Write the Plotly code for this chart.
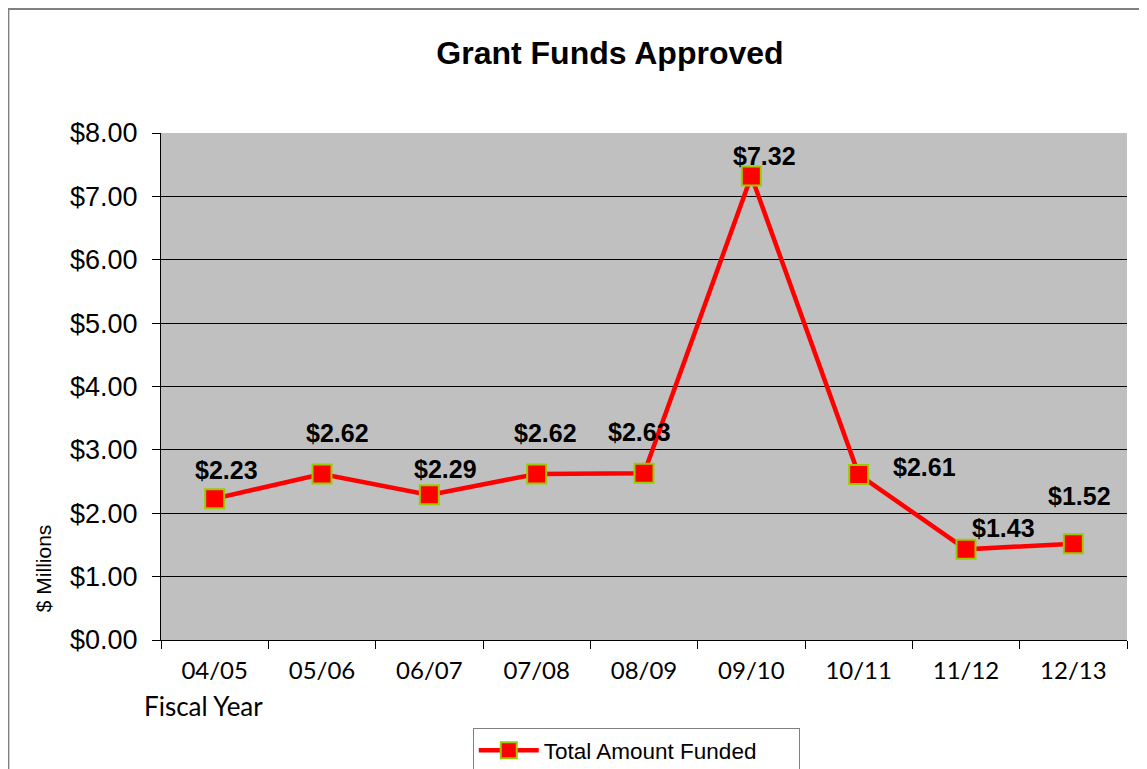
import plotly.graph_objects as go

# ==================== DATA ====================
fiscal_years = ['04/05', '05/06', '06/07', '07/08', '08/09', '09/10', '10/11', '11/12', '12/13']
amount_funded = [2.23, 2.62, 2.29, 2.62, 2.63, 7.32, 2.61, 1.43, 1.52]
y_ticks = [0, 1, 2, 3, 4, 5, 6, 7, 8]

# label offsets (px) — Excel had them nudged by hand
label_shift = [(12, 29), (15, 41), (16, 26), (9, 41), (-5, 41), (13, 20), (66, 8), (37, 21), (6, 48)]

FONT = 'Liberation Sans, Arial, sans-serif'
TICK_FONT = 'Lato, Carlito, Calibri, sans-serif'

fig = go.Figure()
fig.add_trace(go.Scatter(
  x=fiscal_years,
  y=amount_funded,
  mode='lines+markers',
  name='Total Amount Funded',
  line=dict(color='#FF0000', width=4.5),
  marker=dict(symbol='square', size=19, color='#FF0000',
              line=dict(color='#99CC00', width=2)),
))

for cat, val, (dx, dy) in zip(fiscal_years, amount_funded, label_shift):
  fig.add_annotation(
    x=cat, y=val, text=f'<b>${val:.2f}</b>', showarrow=False,
    xshift=dx, yshift=dy,
    font=dict(family=FONT, size=25, color='black'),
  )

# axis titles placed like the original
fig.add_annotation(
  xref='paper', yref='paper', x=0.0435, y=-0.13, text='Fiscal Year',
  xanchor='center', yanchor='middle',
  showarrow=False, font=dict(family=TICK_FONT, size=26, color='black'),
)
fig.add_annotation(
  xref='paper', yref='paper', x=-0.122, y=0.142, text='$ Millions',
  xanchor='center', yanchor='middle',
  textangle=-90, showarrow=False, font=dict(family=FONT, size=21, color='black'),
)

# outer chart border (right/bottom run off the image)
fig.add_shape(
  type='rect', xref='paper', yref='paper',
  x0=-0.158, y0=-0.5, x1=1.2, y1=1.2446,
  line=dict(color='#808080', width=2), layer='below',
)

# the page body has an 8px margin, so the figure is 8px smaller than the window
fig.update_layout(
  width=1139, height=761,
  margin=dict(l=153, r=20, t=125, b=129, autoexpand=False),
  paper_bgcolor='white',
  plot_bgcolor='#C0C0C0',
  title=dict(text='<b>Grant Funds Approved</b>', x=0.5285, xanchor='center',
             y=0.9409, yanchor='middle',
             font=dict(family=FONT, size=32, color='black')),
  xaxis=dict(
    type='category', tickson='boundaries', ticks='outside', ticklen=8,
    tickcolor='black', showgrid=False, showline=True, linecolor='black',
    linewidth=1, range=[-0.5, 8.5], ticklabelstandoff=9,
    tickfont=dict(family=TICK_FONT, size=24, color='black'),
  ),
  yaxis=dict(
    range=[0, 8], tickvals=y_ticks,
    ticktext=[f'${v:.2f}' for v in y_ticks],
    ticks='outside', ticklen=8, tickcolor='black',
    showgrid=True, gridcolor='black', gridwidth=1,
    showline=True, linecolor='black', linewidth=1,
    zeroline=False, ticklabelstandoff=9,
    tickfont=dict(family=FONT, size=27, color='black'),
  ),
  showlegend=True,
  legend=dict(
    orientation='h', x=0.492, xanchor='center', y=-0.1736, yanchor='top',
    bordercolor='#808080', borderwidth=1, bgcolor='white',
    itemwidth=60, entrywidth=250,
    font=dict(family=FONT, size=22.5, color='black'),
  ),
)

fig.write_html('out.html')
